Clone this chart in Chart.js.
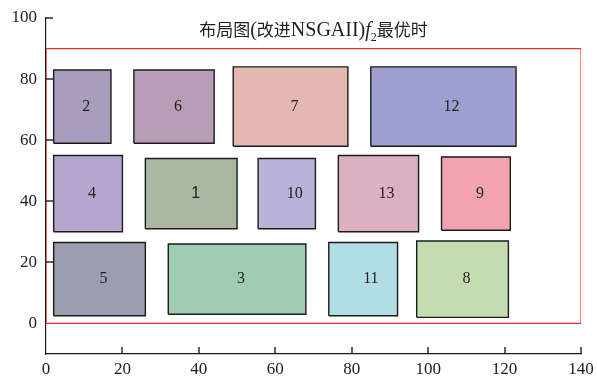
<!DOCTYPE html>
<html>
<head>
<meta charset="utf-8">
<script src="https://cdn.jsdelivr.net/npm/chart.js@4/dist/chart.umd.min.js"></script>
<style>
  html, body { margin: 0; padding: 0; background: #ffffff; }
  #wrap { width: 597px; height: 378px; }
</style>
</head>
<body>
<div id="wrap"><canvas id="c" width="597" height="378"></canvas></div>
<script>
// Block layout: each block is a rectangle [x0, x1] x [y0, y1]
const blockIds = ['2', '6', '7', '12', '4', '1', '10', '13', '9', '5', '3', '11', '8'];
const blockX0 = [2, 23, 49, 85, 2, 26, 55.5, 76.5, 103.5, 2, 32, 74, 97];
const blockX1 = [17, 44, 79, 123, 20, 50, 70.5, 97.5, 121.5, 26, 68, 92, 121];
const blockY0 = [59, 59, 58, 58, 30, 31, 31, 30, 30.5, 2.5, 3, 2.5, 2];
const blockY1 = [83, 83, 84, 84, 55, 54, 54, 55, 54.5, 26.5, 26, 26.5, 27];

// Site boundary
const boundX = [0, 140];
const boundY = [0, 90];

// Axis ticks
const xTicks = [0, 20, 40, 60, 80, 100, 120, 140];
const yTicks = [0, 20, 40, 60, 80, 100];

const fillColors = ['#a99dbe', '#b89db6', '#e4b8b1', '#9c9fcf', '#b6a6cd', '#a9b7a3', '#b9b3d9',
                    '#d9b1c1', '#f2a3af', '#9a9eaf', '#a0cdb1', '#b3dde5', '#c5dcb1'];

const serif = "'Liberation Serif', 'Times New Roman', serif";
const cjk = "'Noto Sans CJK SC', sans-serif";

function rectPoints(x0, x1, y0, y1) {
  return [{x: x0, y: y0}, {x: x1, y: y0}, {x: x1, y: y1}, {x: x0, y: y1}, {x: x0, y: y0}];
}

const datasets = blockIds.map((id, i) => ({
  label: id,
  data: rectPoints(blockX0[i], blockX1[i], blockY0[i], blockY1[i]),
  showLine: true,
  fill: 'shape',
  backgroundColor: fillColors[i],
  borderColor: '#1c1c1c',
  borderWidth: 1.4,
  borderJoinStyle: 'miter',
  pointRadius: 0,
  tension: 0
}));

datasets.push({
  label: 'boundary',
  data: rectPoints(boundX[0], boundX[1], boundY[0], boundY[1]),
  showLine: true,
  fill: false,
  borderColor: '#ff2a2a',
  borderWidth: 1.2,
  pointRadius: 0,
  tension: 0
});

// Block numbers, left-aligned at the block centre
const blockLabels = {
  id: 'blockLabels',
  afterDatasetsDraw(chart) {
    const {ctx, scales: {x, y}} = chart;
    ctx.save();
    ctx.fillStyle = '#222222';
    ctx.textAlign = 'left';
    ctx.textBaseline = 'middle';
    blockIds.forEach((id, i) => {
      const cx = x.getPixelForValue((blockX0[i] + blockX1[i]) / 2);
      const cy = y.getPixelForValue((blockY0[i] + blockY1[i]) / 2);
      ctx.font = id === '1' ? "16px 'Liberation Sans', Arial, sans-serif" : '16px ' + serif;
      ctx.fillText(id, cx, cy);
    });
    ctx.restore();
  }
};

// Inward tick marks on the left and bottom axes
const inwardTicks = {
  id: 'inwardTicks',
  afterDraw(chart) {
    const {ctx, scales: {x, y}} = chart;
    const len = 7;
    const area = chart.chartArea;
    ctx.save();
    ctx.fillStyle = '#1c1c1c';
    xTicks.filter(v => v > 0).forEach(v => {
      const px = Math.round(x.getPixelForValue(v));
      ctx.fillRect(px - 0.7, area.bottom - len, 1.4, len);
    });
    yTicks.filter(v => v > 0).forEach(v => {
      const py = Math.round(y.getPixelForValue(v));
      ctx.fillRect(area.left, py - 0.7, len, 1.4);
    });
    ctx.restore();
  }
};

// Title with italic f and subscript 2, drawn inside the plot above the boundary
const plotTitle = {
  id: 'plotTitle',
  afterDraw(chart) {
    const {ctx, chartArea} = chart;
    const parts = [
      {t: '布局图', f: '17px ' + cjk, dy: 0},
      {t: '(', f: '20px ' + serif, dy: 0},
      {t: '改进', f: '17px ' + cjk, dy: 0},
      {t: 'NSGAII)', f: '20px ' + serif, dy: 0},
      {t: 'f', f: 'italic 20px ' + serif, dy: 0},
      {t: '2', f: '12px ' + serif, dy: 5},
      {t: '最优时', f: '17px ' + cjk, dy: 0}
    ];
    ctx.save();
    ctx.fillStyle = '#222222';
    ctx.textBaseline = 'alphabetic';
    ctx.textAlign = 'left';
    let total = 0;
    parts.forEach(p => { ctx.font = p.f; p.w = ctx.measureText(p.t).width; total += p.w; });
    let px = (chartArea.left + chartArea.right) / 2 - total / 2;
    const base = chartArea.top + 18;
    parts.forEach(p => {
      ctx.font = p.f;
      ctx.fillText(p.t, px, base + p.dy);
      px += p.w;
    });
    ctx.restore();
  }
};

new Chart(document.getElementById('c'), {
  type: 'scatter',
  data: { datasets },
  plugins: [blockLabels, inwardTicks, plotTitle],
  options: {
    responsive: false,
    animation: false,
    layout: { padding: { top: 18, right: 16, left: 0, bottom: 0 } },
    plugins: {
      legend: { display: false },
      tooltip: { enabled: false },
      title: { display: false }
    },
    scales: {
      x: {
        type: 'linear',
        min: 0, max: 140,
        afterBuildTicks: s => { s.ticks = xTicks.map(v => ({value: v})); },
        afterFit: s => { s.height = 24; s.paddingLeft = 0; s.paddingRight = 0; },
        grid: { display: false, drawTicks: false },
        border: { display: true, color: '#1c1c1c', width: 1.2 },
        ticks: { color: '#1e1e1e', padding: 5, maxRotation: 0, font: { family: 'Liberation Serif', size: 17 } }
      },
      y: {
        type: 'linear',
        min: -10, max: 100,
        afterBuildTicks: s => { s.ticks = yTicks.map(v => ({value: v})); },
        afterFit: s => { s.width = 46; s.paddingTop = 0; s.paddingBottom = 0; },
        grid: { display: false, drawTicks: false },
        border: { display: true, color: '#1c1c1c', width: 1.2 },
        ticks: { color: '#1e1e1e', padding: 9, font: { family: 'Liberation Serif', size: 17 } }
      }
    }
  }
});
</script>
</body>
</html>
